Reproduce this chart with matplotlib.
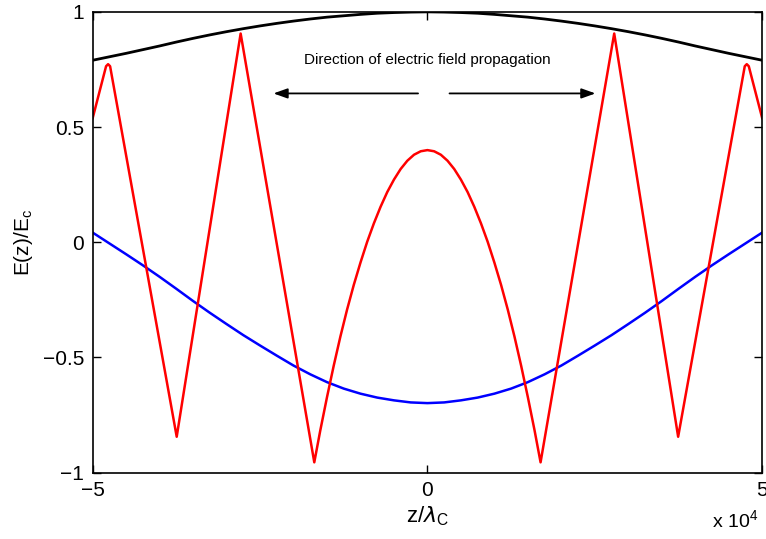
import numpy as np
import matplotlib
matplotlib.use('Agg')
import matplotlib.pyplot as plt

plt.rcParams['font.family'] = ['Liberation Sans', 'DejaVu Sans']

# positions along z, in units of 10^4 lambda_C
z_smooth = np.array([-5.0, -4.75, -4.5, -4.25, -4.0, -3.75, -3.5, -3.25, -3.0, -2.75,
                     -2.5, -2.25, -2.0, -1.75, -1.5, -1.25, -1.0, -0.75, -0.5, -0.25, 0.0,
                     0.25, 0.5, 0.75, 1.0, 1.25, 1.5, 1.75, 2.0, 2.25, 2.5,
                     2.75, 3.0, 3.25, 3.5, 3.75, 4.0, 4.25, 4.5, 4.75, 5.0])

# black envelope
E_env = np.array([0.790, 0.805, 0.820, 0.836, 0.852, 0.869, 0.885, 0.900, 0.914, 0.927,
                  0.939, 0.950, 0.960, 0.969, 0.977, 0.983, 0.989, 0.994, 0.997, 0.999, 1.000,
                  0.999, 0.997, 0.994, 0.989, 0.983, 0.977, 0.969, 0.960, 0.950, 0.939,
                  0.927, 0.914, 0.900, 0.885, 0.869, 0.852, 0.836, 0.820, 0.805, 0.790])

# blue curve
E_blue = np.array([0.042, -0.005, -0.052, -0.100, -0.150, -0.202, -0.255, -0.306, -0.355, -0.403,
                   -0.448, -0.492, -0.535, -0.573, -0.607, -0.635, -0.657, -0.674, -0.686, -0.695, -0.698,
                   -0.695, -0.686, -0.674, -0.657, -0.635, -0.607, -0.573, -0.535, -0.492, -0.448,
                   -0.403, -0.355, -0.306, -0.255, -0.202, -0.150, -0.100, -0.052, -0.005, 0.042])

# red field
z_red = np.array([-5.0, -4.80, -4.77, -4.74, -3.745, -2.79, -1.69, -1.6, -1.5, -1.4, -1.3,
                  -1.2, -1.1, -1.0, -0.9, -0.8, -0.7, -0.6, -0.5, -0.4, -0.3, -0.2, -0.1, 0.0,
                  0.1, 0.2, 0.3, 0.4, 0.5, 0.6, 0.7, 0.8, 0.9, 1.0, 1.1, 1.2,
                  1.3, 1.4, 1.5, 1.6, 1.69, 2.79, 3.745, 4.74, 4.77, 4.80, 5.0])
E_red = np.array([0.539, 0.764, 0.773, 0.764, -0.844, 0.906, -0.955, -0.816, -0.672, -0.536, -0.409,
                  -0.292, -0.185, -0.088, 0.002, 0.082, 0.154, 0.218, 0.272, 0.318, 0.354, 0.380, 0.395, 0.400,
                  0.395, 0.380, 0.354, 0.318, 0.272, 0.218, 0.154, 0.082, 0.002, -0.088, -0.185, -0.292,
                  -0.409, -0.536, -0.672, -0.816, -0.955, 0.906, -0.844, 0.764, 0.773, 0.764, 0.539])

x_ticks = [-5e4, 0, 5e4]
x_ticklabels = ['\u22125', '0', '5']
y_ticks = [-1, -0.5, 0, 0.5, 1]
y_ticklabels = ['\u22121', '\u22120.5', '0', '0.5', '1']

fig = plt.figure(figsize=(7.66, 5.39), dpi=100)
ax = fig.add_axes([0.121, 0.123, 0.874, 0.855])

ax.plot(z_smooth * 1e4, E_env, color='black', lw=2.0)
ax.plot(z_smooth * 1e4, E_blue, color='blue', lw=1.8)
ax.plot(z_red * 1e4, E_red, color='red', lw=1.8, solid_joinstyle='round')

ax.set_xlim(-5e4, 5e4)
ax.set_ylim(-1, 1)
ax.set_xticks(x_ticks)
ax.set_xticklabels(x_ticklabels)
ax.set_yticks(y_ticks)
ax.set_yticklabels(y_ticklabels)
ax.tick_params(direction='in', length=6, width=1, labelsize=15, top=True, right=True, pad=6)
for s in ax.spines.values():
    s.set_linewidth(1.2)

ax.set_xlabel('z/$\\lambda_\\mathregular{C}$', fontsize=16, labelpad=3)
ax.set_ylabel('E(z)/E$_\\mathregular{c}$', fontsize=15, labelpad=6)

ax.text(0, 0.79, 'Direction of electric field propagation', ha='center', va='center', fontsize=11)
arrow_style = dict(arrowstyle='-|>,head_length=0.7,head_width=0.25', color='black', lw=1.3,
                   mutation_scale=12, shrinkA=0, shrinkB=0)
ax.annotate('', xy=(-2.30e4, 0.646), xytext=(-0.14e4, 0.646), arrowprops=arrow_style)
ax.annotate('', xy=(2.51e4, 0.646), xytext=(0.33e4, 0.646), arrowprops=arrow_style)

fig.text(0.930, 0.012, 'x 10$^\\mathregular{4}$', fontsize=14, ha='left', va='bottom')

fig.savefig('out.png', dpi=100)
